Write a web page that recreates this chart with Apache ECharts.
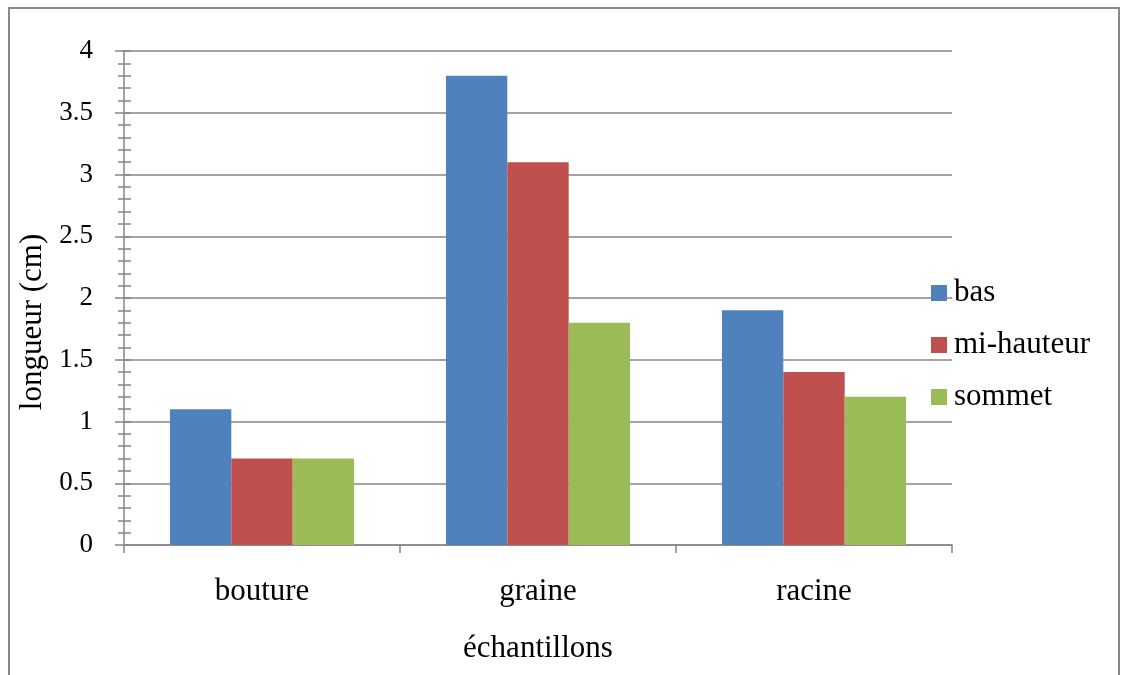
<!DOCTYPE html>
<html>
<head>
<meta charset="utf-8">
<script src="https://cdn.jsdelivr.net/npm/echarts@6/dist/echarts.min.js"></script>
<style>
  html, body { margin: 0; padding: 0; background: #fff; }
  #chart { width: 1121px; height: 675px; }
</style>
</head>
<body>
<div id="chart"></div>
<script>
// Sample types and mean lengths (cm) per position
const categories = ['bouture', 'graine', 'racine'];
const seriesNames = ['bas', 'mi-hauteur', 'sommet'];
const bas = [1.1, 3.8, 1.9];
const miHauteur = [0.7, 3.1, 1.4];
const sommet = [0.7, 1.8, 1.2];
const colors = ['#4F81BD', '#C0504D', '#9BBB59'];

const FONT = '"Liberation Serif", "Times New Roman", serif';
const AXIS_GREY = '#868686';

const chart = echarts.init(document.getElementById('chart'), null, { renderer: 'canvas' });

const valueData = [bas, miHauteur, sommet];

chart.setOption({
  animation: false,
  backgroundColor: '#ffffff',
  textStyle: { fontFamily: FONT, color: '#000' },
  graphic: [{
    type: 'rect',
    shape: { x: 9, y: 8, width: 1110, height: 700 },
    style: { fill: 'none', stroke: '#8a8a8a', lineWidth: 2 },
    silent: true
  }],
  grid: { left: 124, right: 169, top: 51, bottom: 130, containLabel: false },
  legend: {
    orient: 'vertical',
    left: 931,
    top: 277,
    padding: 0,
    itemWidth: 16,
    itemHeight: 16,
    itemGap: 20,
    icon: 'rect',
    textStyle: { fontFamily: FONT, fontSize: 31, lineHeight: 32, color: '#000', padding: [0, 0, 0, 2] },
    data: seriesNames
  },
  xAxis: {
    type: 'category',
    data: categories,
    name: 'échantillons',
    nameLocation: 'middle',
    nameGap: 88,
    nameTextStyle: { fontFamily: FONT, fontSize: 31, color: '#000' },
    axisLine: { lineStyle: { color: AXIS_GREY, width: 1.5 } },
    axisTick: { show: true, length: 8, inside: false, lineStyle: { color: AXIS_GREY, width: 1.5 } },
    axisLabel: { fontFamily: FONT, fontSize: 31, color: '#000', margin: 31 },
    splitLine: { show: false }
  },
  yAxis: [{
    type: 'value',
    min: 0,
    max: 4,
    interval: 0.5,
    name: 'longueur (cm)',
    nameLocation: 'middle',
    nameGap: 72,
    nameRotate: 90,
    nameTextStyle: { fontFamily: FONT, fontSize: 31, color: '#000', padding: [0, 48, 0, 0] },
    axisLine: { show: true, lineStyle: { color: AXIS_GREY, width: 1.5 } },
    axisTick: { show: true, length: 9, inside: false, lineStyle: { color: AXIS_GREY, width: 1.5 } },
    minorTick: { show: true, splitNumber: 5, length: 6, lineStyle: { color: AXIS_GREY, width: 1.5 } },
    axisLabel: { fontFamily: FONT, fontSize: 27, color: '#000', margin: 31 },
    splitLine: { show: true, lineStyle: { color: AXIS_GREY, width: 1.5 } }
  }, {
    // inner half of the minor ticks, sharing the same scale and position
    type: 'value',
    position: 'left',
    min: 0,
    max: 4,
    interval: 0.5,
    axisLine: { show: false },
    axisTick: { show: true, inside: true, length: 7, lineStyle: { color: AXIS_GREY, width: 1.5 } },
    minorTick: { show: true, splitNumber: 5, length: 7, lineStyle: { color: AXIS_GREY, width: 1.5 } },
    axisLabel: { show: false },
    splitLine: { show: false }
  }],
  series: seriesNames.map((name, i) => ({
    name: name,
    type: 'bar',
    yAxisIndex: 0,
    data: valueData[i],
    barGap: '0%',
    barCategoryGap: '33.3%',
    itemStyle: { color: colors[i] },
    emphasis: { disabled: true }
  }))
});
</script>
</body>
</html>
